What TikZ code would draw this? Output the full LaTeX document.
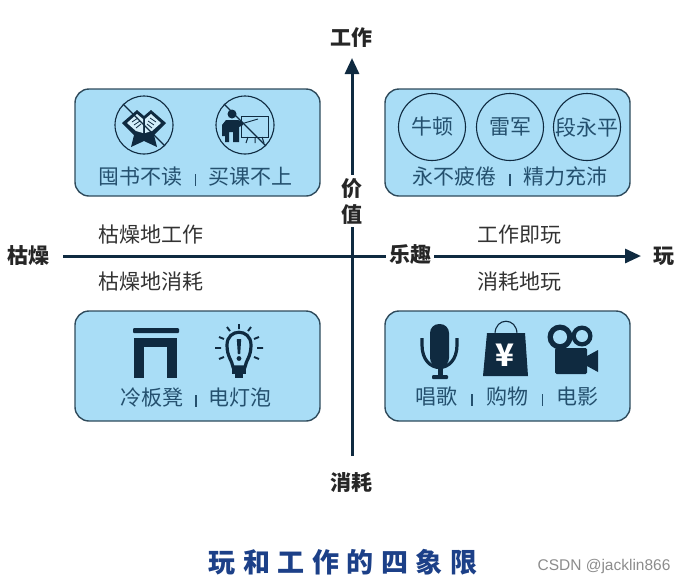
\documentclass[tikz,border=0pt]{standalone}
\usepackage{fontspec}
\setmainfont{Noto Sans CJK SC}
\newfontfamily\latinf{Liberation Sans}
\usetikzlibrary{arrows.meta}
\definecolor{boxc}{HTML}{A9DDF6}
\definecolor{edgec}{HTML}{2F4B5C}
\definecolor{inkc}{HTML}{0F2A40}
\definecolor{labelc}{HTML}{24506E}
\definecolor{titlec}{HTML}{1C4088}
\definecolor{markc}{HTML}{8C8C8C}
\newcommand{\sepbar}[1]{\hspace{#1}\rule[-1pt]{1.8pt}{12pt}\hspace{#1}}

\begin{document}
\begin{tikzpicture}[
  x=1pt, y=-1pt,
  quad/.style={draw=edgec, fill=boxc, line width=1.4pt, rounded corners=14pt},
  caption/.style={font=\fontsize{21}{24}\selectfont, text=labelc, inner sep=0pt},
  axislbl/.style={font=\fontsize{21}{24}\selectfont\bfseries, text=black!85, inner sep=0pt},
  zonelbl/.style={font=\fontsize{21}{24}\selectfont, text=black!80, inner sep=0pt},
  person/.style={draw=inkc, circle, line width=1.1pt, minimum size=67pt, inner sep=0pt,
    font=\fontsize{21}{24}\selectfont, text=labelc},
  ban/.style={draw=inkc, line width=1.1pt},
  icon/.style={fill=inkc, draw=none},
  axisarr/.style={-{Triangle[length=16pt,width=14pt]}, line width=3pt, draw=inkc}
]
  \useasboundingbox (0,0) rectangle (687,584);

  % quadrants
  \draw[quad] (75,89) rectangle (320,196);
  \draw[quad] (385,89) rectangle (630,196);
  \draw[quad] (75,311) rectangle (320,421);
  \draw[quad] (385,311) rectangle (630,421);

  % axes
  \coordinate (left) at (63,256);
  \coordinate (right) at (641,256);
  \coordinate (bottom) at (352,456);
  \coordinate (top) at (352,58);
  \draw[axisarr] (left) -- (right);
  \draw[axisarr] (bottom) -- (top);

  \node[axislbl] (work) at (351,38) {工作};
  \node[axislbl] (waste) at (351,482) {消耗};
  \node[axislbl] (dull) at (28,256) {枯燥};
  \node[axislbl] (play) at (664,256) {玩};
  \node[axislbl, fill=white, inner ysep=3pt, align=center, font=\fontsize{21}{26}\selectfont\bfseries] (value) at (352,201) {价\\值};
  \node[axislbl, fill=white, inner xsep=3pt, inner ysep=3pt] (fun) at (410,255) {乐趣};

  \node[zonelbl] (dullwork) at (151,235) {枯燥地工作};
  \node[zonelbl] (dullwaste) at (151,282) {枯燥地消耗};
  \node[zonelbl] (workplay) at (519,235) {工作即玩};
  \node[zonelbl] (wasteplay) at (519,282) {消耗地玩};

  % top left icons
  \fill[icon] (122,123) -- (137,110) -- (144,116) -- (151,110) -- (166,123) -- (154,135)
    -- (157,147) -- (144,141) -- (131,147) -- (134,135) -- cycle;
  \fill[boxc!50!white] (127,123) -- (137,114) -- (143,119) -- (143,133) -- (136,131) -- cycle;
  \fill[boxc!50!white] (161,123) -- (151,114) -- (145,119) -- (145,133) -- (152,131) -- cycle;
  \draw[inkc, line width=0.8pt] (132,122) -- (138,118) (134,125) -- (140,121) (136,128) -- (141,124)
    (156,122) -- (150,118) (154,125) -- (148,121) (152,128) -- (147,124);
  \node[ban, circle, minimum size=58pt, inner sep=0pt] (nobook) at (144,125) {};
  \draw[ban] (nobook.135) -- (nobook.-45);

  \draw[inkc, line width=1pt] (241,116) rectangle (268,137);
  \draw[inkc, line width=1pt] (248,137) -- (246,143) (255,137) -- (255,143) (262,137) -- (264,143);
  \fill[icon] (232,114) circle (4.5);
  \fill[icon] (222,136) -- (222,125) -- (226,120) -- (238,120) -- (243,122) -- (243,125) -- (239,127)
    -- (239,142) -- (233,142) -- (233,132) -- (229,132) -- (229,142) -- (225,142) -- (225,136) -- cycle;
  \draw[inkc, line width=0.9pt] (241,124) -- (258,119);
  \node[ban, circle, minimum size=58pt, inner sep=0pt] (noclass) at (245,125) {};
  \draw[ban] (noclass.135) -- (noclass.-45);

  \node[caption] (topleft) at (195.5,177) {囤书不读\sepbar{12.5pt}买课不上};

  % top right names
  \node[person] (newton) at (432,127) {牛顿};
  \node[person] (leijun) at (510,127) {雷军};
  \node[person] (duan) at (587,127) {段永平};
  \node[caption] (topright) at (510,177) {永不疲倦\sepbar{12.5pt}精力充沛};

  % bottom left icons
  \fill[icon, rounded corners=1pt] (133,328) rectangle (179,333);
  \fill[icon] (134,338) rectangle (177,378);
  \fill[boxc] (144,347) rectangle (167,379);

  \draw[inkc, line width=3.2pt] (233,367) .. controls (232,360) and (227,357) .. (227,345)
    .. controls (227,328) and (251,328) .. (251,345) .. controls (251,357) and (246,360) .. (245,367) -- cycle;
  \fill[icon] (232,366) rectangle (246,374);
  \fill[icon] (235,374) rectangle (243,377.5);
  \fill[icon] (236.8,339) -- (241.2,339) -- (240.2,354) -- (237.8,354) -- cycle;
  \fill[icon] (239,358.5) circle (2.4);
  \draw[inkc, line width=1.9pt] (239,324) -- (239,329) (227,327) -- (230,331) (251,327) -- (248,331)
    (219,337) -- (224,339) (259,337) -- (254,339) (215,348) -- (221,348) (263,348) -- (257,348)
    (219,359) -- (224,357) (259,359) -- (254,357);

  \node[caption] (bottomleft) at (196,398) {冷板凳\sepbar{12pt}电灯泡};

  % bottom right icons
  \fill[icon, rounded corners=9pt] (430,324) rectangle (449,367);
  \draw[inkc, line width=3.2pt] (422,338) -- (422,345) .. controls (422,375) and (457,375) .. (457,345) -- (457,338);
  \fill[icon] (437.5,366) rectangle (442.5,376);
  \fill[icon, rounded corners=1pt] (432,375) rectangle (448,379);

  \draw[inkc, line width=1.1pt] (495,334) .. controls (495,317) and (517,317) .. (517,334);
  \fill[icon] (487,333) -- (525,333) -- (528,376) -- (483,376) -- cycle;
  \node[font=\fontsize{31}{31}\selectfont\bfseries, text=white, inner sep=0pt] (yen) at (505,355) {¥};

  \fill[icon] (560,337) circle (12.5);
  \fill[icon] (582,336) circle (10.5);
  \fill[boxc] (560,337) circle (7);
  \fill[boxc] (582,336) circle (6);
  \fill[icon, rounded corners=1.5pt] (555,348) rectangle (587,374);
  \fill[icon] (587,356) -- (598,350) -- (598,372) -- (587,366) -- cycle;

  \node[caption] (bottomright) at (507,397) {唱歌\sepbar{13.5pt}购物\sepbar{13.5pt}电影};

  % title
  \node[font=\fontsize{27}{32}\selectfont\bfseries, text=titlec, inner sep=0pt] (title) at (343,562)
    {玩\hspace{7.5pt}和\hspace{7.5pt}工\hspace{7.5pt}作\hspace{7.5pt}的\hspace{7.5pt}四\hspace{7.5pt}象\hspace{7.5pt}限};
  \node[font=\latinf\fontsize{15.5}{18}\selectfont, text=markc, inner sep=0pt] (mark) at (604,566) {CSDN @jacklin866};
\end{tikzpicture}
\end{document}
